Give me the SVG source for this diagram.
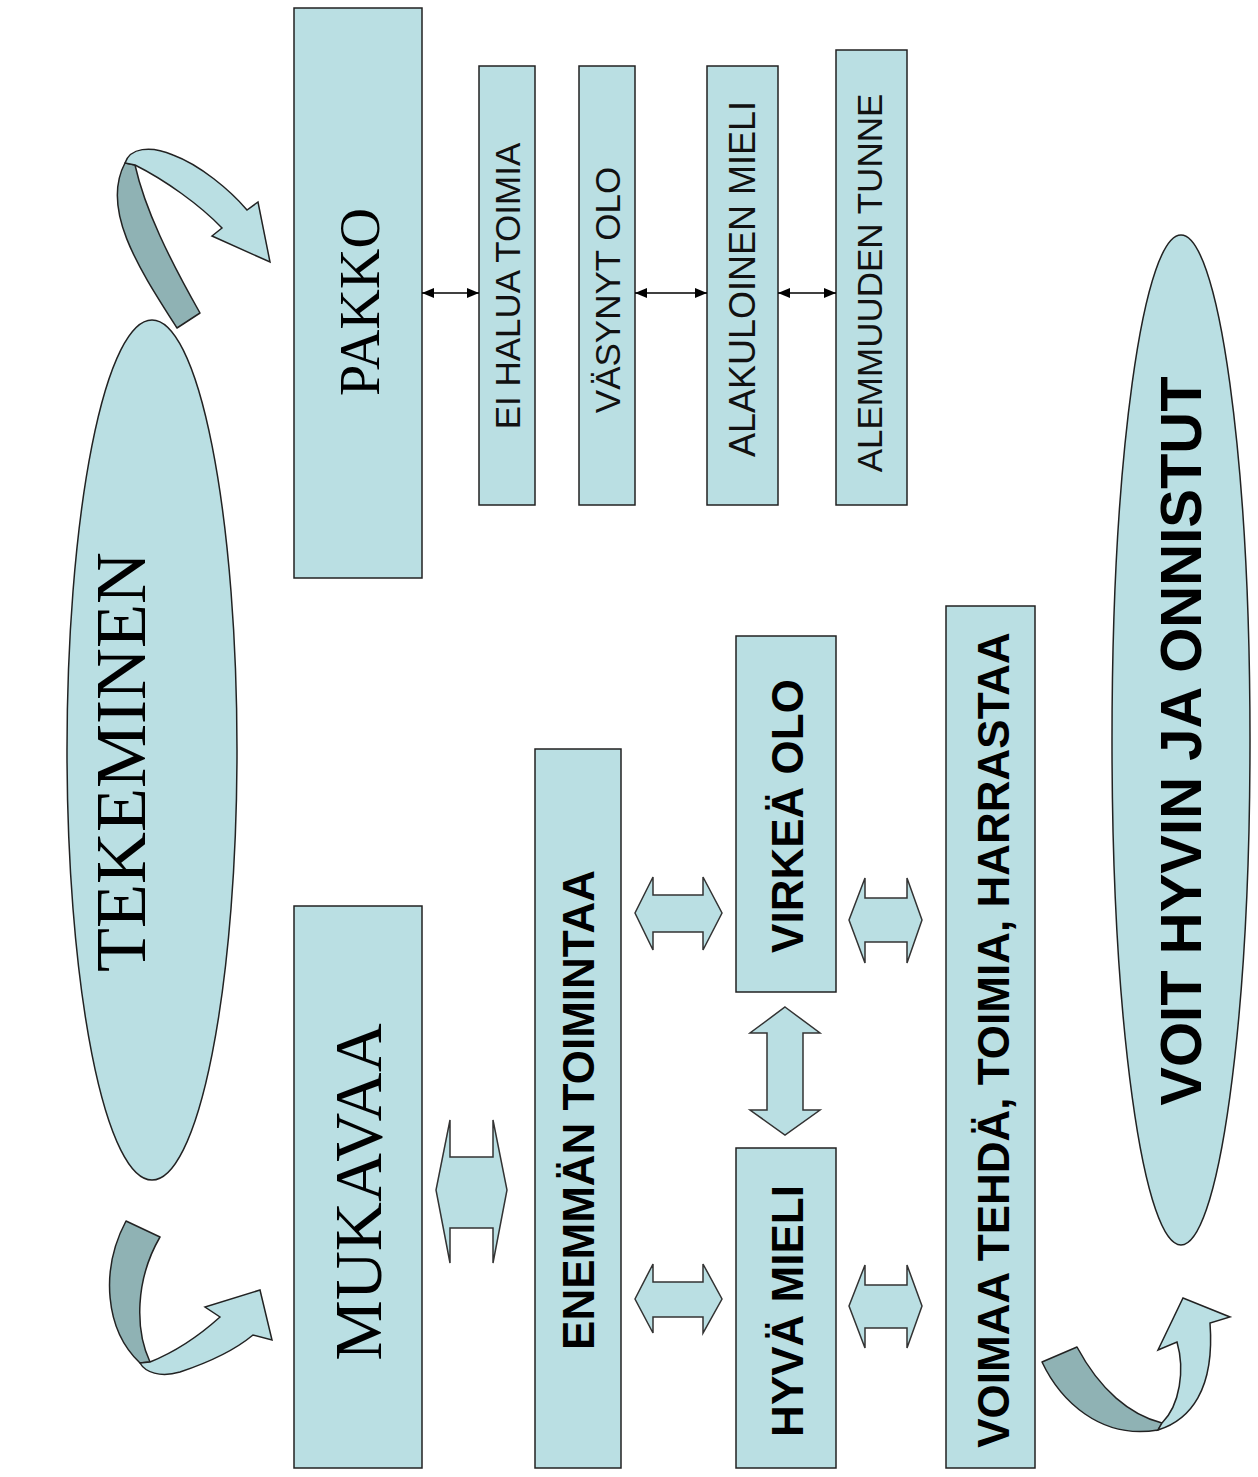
<svg xmlns="http://www.w3.org/2000/svg" width="1258" height="1477" viewBox="0 0 1258 1477">
<style>
.box{fill:#BADFE3;stroke:#222;stroke-width:1.5}
.blk{fill:#BADFE3;stroke:#333;stroke-width:1.5;stroke-linejoin:miter}
.dark{fill:#8FB2B4;stroke:#222;stroke-width:1.5;stroke-linejoin:round}
.light{fill:#BADFE3;stroke:#222;stroke-width:1.5;stroke-linejoin:miter}
.serif{font-family:"Liberation Serif","Times New Roman",serif;fill:#000}
.sans{font-family:"Liberation Sans",Arial,sans-serif;fill:#111}
.bold{font-family:"Liberation Sans",Arial,sans-serif;font-weight:bold;fill:#000}
.ln{stroke:#000;stroke-width:1.6;fill:none;marker-start:url(#ah);marker-end:url(#ah)}
</style>
<defs>
<marker id="ah" viewBox="0 0 12 10" refX="12" refY="5" markerWidth="12" markerHeight="10" markerUnits="userSpaceOnUse" orient="auto-start-reverse">
<path d="M0,0 L12,5 L0,10 Z" fill="#000"/>
</marker>
</defs>
<rect width="1258" height="1477" fill="#fff"/>

<g id="tekeminen">
<ellipse cx="152" cy="750" rx="85" ry="430" class="box"/>
<text class="serif" font-size="72" text-anchor="middle" transform="translate(145,762) rotate(-90)">TEKEMINEN</text>
</g>
<g id="voit">
<ellipse cx="1181" cy="740" rx="69" ry="505" class="box"/>
<text class="bold" font-size="58" text-anchor="middle" transform="translate(1201,741) rotate(-90)">VOIT HYVIN JA ONNISTUT</text>
</g>

<g id="pakko">
<rect x="294" y="8" width="128" height="570" class="box"/>
<text class="serif" font-size="56" text-anchor="middle" transform="translate(379,302) rotate(-90)">PAKKO</text>
</g>
<g id="ei-halua">
<rect x="479" y="66" width="56" height="439" class="box"/>
<text class="sans" font-size="35" text-anchor="middle" transform="translate(520,286) rotate(-90)">EI HALUA TOIMIA</text>
</g>
<g id="vasynyt">
<rect x="579" y="66" width="56" height="439" class="box"/>
<text class="sans" font-size="35" text-anchor="middle" transform="translate(620,290) rotate(-90)">VÄSYNYT  OLO</text>
</g>
<g id="alakuloinen">
<rect x="707" y="66" width="71" height="439" class="box"/>
<text class="sans" font-size="36" text-anchor="middle" transform="translate(755,279) rotate(-90)">ALAKULOINEN MIELI</text>
</g>
<g id="alemmuuden">
<rect x="836" y="50" width="71" height="455" class="box"/>
<text class="sans" font-size="35" text-anchor="middle" transform="translate(882,283) rotate(-90)">ALEMMUUDEN TUNNE</text>
</g>

<g id="mukavaa">
<rect x="294" y="906" width="128" height="562" class="box"/>
<text class="serif" font-size="68" text-anchor="middle" transform="translate(381,1192) rotate(-90)">MUKAVAA</text>
</g>
<g id="enemman">
<rect x="535" y="749" width="86" height="719" class="box"/>
<text class="bold" font-size="44" text-anchor="middle" transform="translate(594,1110) rotate(-90)">ENEMMÄN TOIMINTAA</text>
</g>
<g id="virkea">
<rect x="736" y="636" width="100" height="356" class="box"/>
<text class="bold" font-size="44" text-anchor="middle" transform="translate(803,816) rotate(-90)">VIRKEÄ OLO</text>
</g>
<g id="hyva">
<rect x="736" y="1148" width="100" height="320" class="box"/>
<text class="bold" font-size="44" text-anchor="middle" transform="translate(803,1311) rotate(-90)">HYVÄ MIELI</text>
</g>
<g id="voimaa">
<rect x="946" y="606" width="89" height="862" class="box"/>
<text class="bold" font-size="44" text-anchor="middle" transform="translate(1009,1040) rotate(-90)">VOIMAA TEHDÄ, TOIMIA, HARRASTAA</text>
</g>

<g id="connectors">
<line x1="422" y1="293" x2="479" y2="293" class="ln"/>
<line x1="635" y1="293" x2="707" y2="293" class="ln"/>
<line x1="778" y1="293" x2="836" y2="293" class="ln"/>

<path class="blk" d="M450,1120 L450,1157 L493,1157 L493,1120 L507,1190 L493,1263 L493,1228 L450,1228 L450,1263 L436,1190 Z"/>
<path class="blk" d="M653,1264 L653,1282 L703,1282 L703,1264 L722,1299 L703,1333 L703,1317 L653,1317 L653,1333 L635,1299 Z"/>
<path class="blk" d="M865,1265 L865,1285 L907,1285 L907,1265 L922,1306 L907,1348 L907,1328 L865,1328 L865,1348 L849,1306 Z"/>
<path class="blk" d="M653,877 L653,895 L703,895 L703,877 L722,913 L703,950 L703,932 L653,932 L653,950 L635,913 Z"/>
<path class="blk" d="M865,878 L865,898 L907,898 L907,878 L922,920 L907,963 L907,942 L865,942 L865,963 L849,920 Z"/>
<path class="blk" d="M785,1007 L820,1033 L803,1033 L803,1110 L820,1110 L785,1135 L750,1110 L767,1110 L767,1033 L750,1033 Z"/>

<g id="curve-top">
<path class="dark" d="M177,328 C140,270 100,210 125,163 L135,165 C145,210 170,260 200,313 Z"/>
<path class="light" d="M125,163 C130,148 150,145 173,155 C200,165 230,190 247,210 L258,202 L270,262 L212,236 L222,228 C200,205 165,180 135,165 Z"/>
</g>
<g id="curve-left">
<path class="dark" d="M126,1221 C100,1270 105,1330 140,1363 L150,1362 C135,1330 135,1280 160,1237 Z"/>
<path class="light" d="M140,1363 C145,1372 160,1378 180,1372 C210,1362 235,1350 253,1335 L272,1340 L260,1290 L205,1307 L220,1317 C200,1335 175,1352 150,1362 Z"/>
</g>
<g id="curve-right">
<path class="dark" d="M1042,1362 C1060,1400 1100,1440 1158,1430 L1162,1423 C1130,1415 1100,1390 1077,1347 Z"/>
<path class="light" d="M1158,1430 C1190,1420 1215,1390 1210,1323 L1230,1317 L1183,1298 L1158,1350 L1177,1342 C1185,1370 1180,1405 1162,1423 Z"/>
</g>
</g>
</svg>
